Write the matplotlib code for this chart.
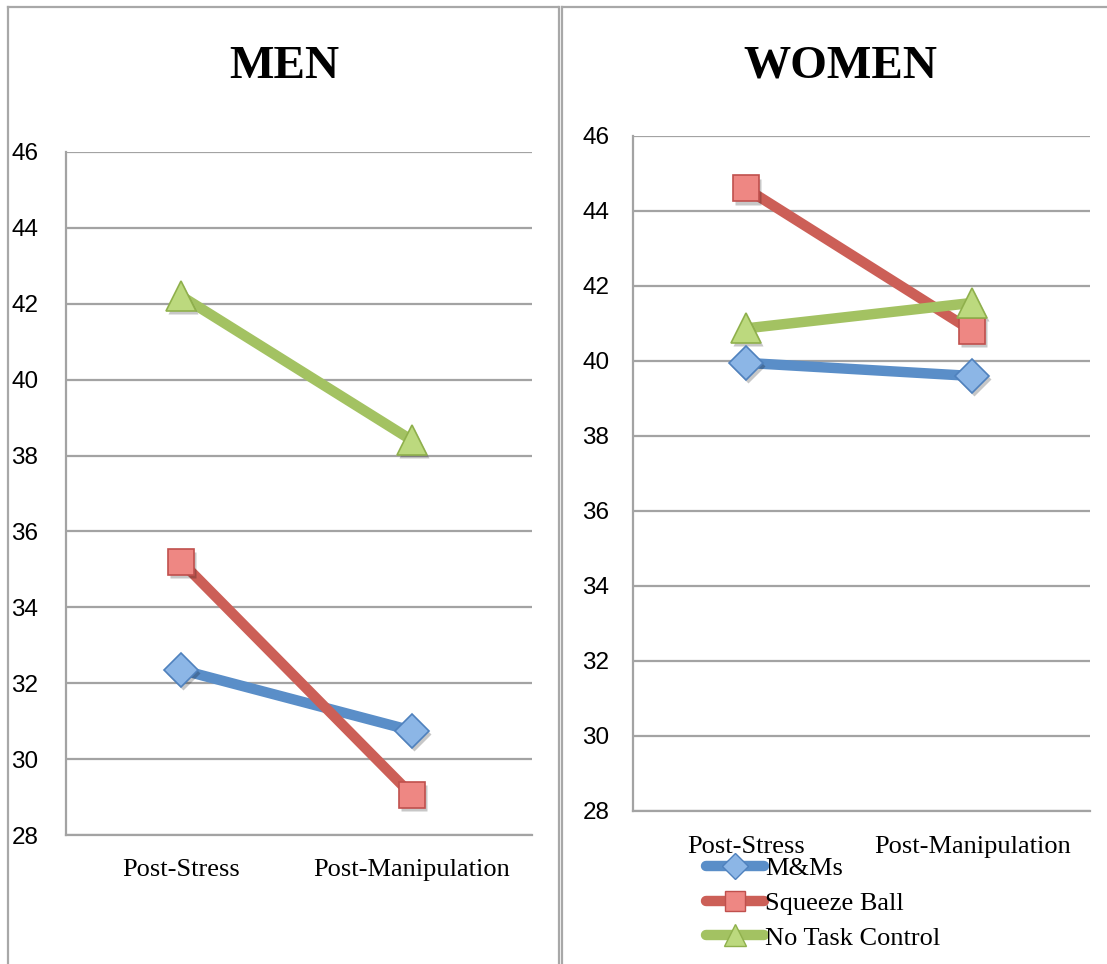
import matplotlib
matplotlib.use("Agg")
import matplotlib.pyplot as plt
from matplotlib.lines import Line2D
from matplotlib.transforms import ScaledTranslation

# Data
timepoints = ["Post-Stress", "Post-Manipulation"]
groups = ["M&Ms", "Squeeze Ball", "No Task Control"]
men_mms = [32.35, 30.75]
men_squeeze = [35.2, 29.05]
men_notask = [42.2, 38.4]
women_mms = [39.95, 39.6]
women_squeeze = [44.6, 40.8]
women_notask = [40.87, 41.55]
y_ticks = [28, 30, 32, 34, 36, 38, 40, 42, 44, 46]

line_colors = ["#5a8ec8", "#cc5f57", "#a3c262"]
face_colors = ["#8cb6e6", "#ee8783", "#bcd97e"]
edge_colors = ["#4f81bd", "#c0504d", "#8fb04c"]
markers = ["D", "s", "^"]
marker_sizes = [17, 19, 21]

W, H = 1107, 964
fig = plt.figure(figsize=(W / 100, H / 100), dpi=100)
fig.patch.set_facecolor("white")

serif = ["Liberation Serif", "DejaVu Serif"]
sans = ["Liberation Sans", "DejaVu Sans"]
grid_col = "#a3a3a3"


def px_rect(x0, y0, x1, y1):
    return [x0 / W, 1 - y1 / H, (x1 - x0) / W, (y1 - y0) / H]


def draw_panel(ax, series, ylabel_pad, xlabel_pad):
    xs = [0, 1]
    shadow = ax.transData + ScaledTranslation(1.2 / 72, -2.2 / 72, fig.dpi_scale_trans)
    for i, vals in enumerate(series):
        ax.plot(xs, vals, color=line_colors[i], lw=7.5, solid_capstyle="round", zorder=3)
        ax.plot(xs, vals, linestyle="none", marker=markers[i], ms=marker_sizes[i],
                markerfacecolor="#000000", markeredgecolor="none", alpha=0.22,
                transform=shadow, zorder=3.5)
        ax.plot(xs, vals, linestyle="none", marker=markers[i], ms=marker_sizes[i],
                markerfacecolor=face_colors[i], markeredgecolor=edge_colors[i],
                markeredgewidth=1.2, zorder=4)
    ax.set_xlim(-0.5, 1.52)
    ax.set_ylim(28, 46)
    ax.set_yticks(y_ticks)
    ax.set_yticklabels([str(t) for t in y_ticks], fontsize=17.5, family=sans)
    ax.set_xticks(xs)
    ax.set_xticklabels(timepoints, fontsize=19, family=serif)
    ax.tick_params(axis="both", length=0)
    ax.tick_params(axis="y", pad=ylabel_pad)
    ax.tick_params(axis="x", pad=xlabel_pad)
    ax.yaxis.grid(True, color=grid_col, lw=1.6)
    ax.set_axisbelow(True)
    for s in ["top", "right"]:
        ax.spines[s].set_visible(False)
    for s in ["left", "bottom"]:
        ax.spines[s].set_color(grid_col)
        ax.spines[s].set_linewidth(1.6)


ax1 = fig.add_axes(px_rect(66, 152, 532, 835))
draw_panel(ax1, [men_mms, men_squeeze, men_notask], ylabel_pad=20, xlabel_pad=17)

ax2 = fig.add_axes(px_rect(633, 136, 1090, 811))
draw_panel(ax2, [women_mms, women_squeeze, women_notask], ylabel_pad=17, xlabel_pad=18)

# Panel titles
fig.text(284 / W, 1 - 78 / H, "MEN", ha="center", va="baseline",
         fontsize=34, fontweight="bold", family=serif)
fig.text(840 / W, 1 - 78 / H, "WOMEN", ha="center", va="baseline",
         fontsize=34, fontweight="bold", family=serif)

# Panel frames
frame_kw = dict(color="#a8a8a8", lw=1.6, transform=fig.transFigure, zorder=10)
fig.add_artist(Line2D([8 / W, 8 / W], [0, 1 - 7 / H], **frame_kw))
fig.add_artist(Line2D([8 / W, 558 / W], [1 - 7 / H, 1 - 7 / H], **frame_kw))
fig.add_artist(Line2D([558.5 / W, 558.5 / W], [0, 1 - 7 / H], **frame_kw))
fig.add_artist(Line2D([561.5 / W, 561.5 / W], [0, 1 - 7 / H], **frame_kw))
fig.add_artist(Line2D([561.5 / W, 1], [1 - 7 / H, 1 - 7 / H], **frame_kw))

# Legend
handles = [Line2D([0], [0], color=line_colors[i], lw=7.5, solid_capstyle="round",
                  marker=markers[i], ms=marker_sizes[i] * 0.75,
                  markerfacecolor=face_colors[i], markeredgecolor=edge_colors[i],
                  markeredgewidth=1.0)
           for i in range(3)]
fig.legend(handles, groups, loc="upper left", bbox_to_anchor=(706 / W, 1 - 857 / H),
           frameon=False, borderaxespad=0, borderpad=0, handlelength=2.2,
           handletextpad=0.05, labelspacing=0.42, numpoints=1,
           prop={"family": serif, "size": 19})

fig.savefig("out.png", dpi=100, facecolor="white")
